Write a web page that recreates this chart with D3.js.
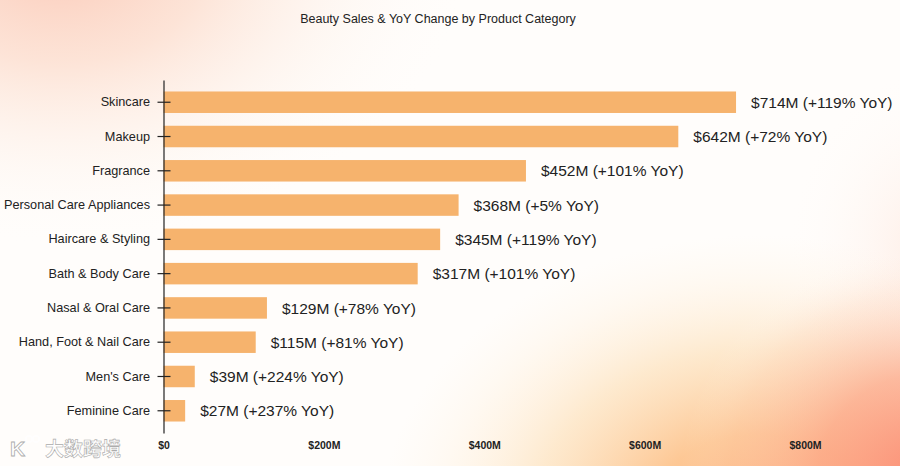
<!DOCTYPE html>
<html><head><meta charset="utf-8">
<script src="https://cdn.jsdelivr.net/npm/d3@7"></script>
<style>
html,body{margin:0;padding:0;background:#fff;}
svg{display:block;font-family:"Liberation Sans",Arial,sans-serif;}
</style></head>
<body>
<svg id="chart" width="900" height="466"></svg>
<script>
const categories = ["Skincare","Makeup","Fragrance","Personal Care Appliances","Haircare & Styling","Bath & Body Care","Nasal & Oral Care","Hand, Foot & Nail Care","Men's Care","Feminine Care"];
const sales = [714,642,452,368,345,317,129,115,39,27];
const yoy = [119,72,101,5,119,101,78,81,224,237];
const xTicks = [0,200,400,600,800];
const xTickLabels = ["$0","$200M","$400M","$600M","$800M"];
const title = "Beauty Sales & YoY Change by Product Category";

const W = 900, H = 466;
const svg = d3.select("#chart");
const defs = svg.append("defs");

function radial(id, cx, cy, r, sy, stops){
  const g = defs.append("radialGradient").attr("id",id).attr("gradientUnits","userSpaceOnUse")
    .attr("cx",cx).attr("cy",cy).attr("r",r)
    .attr("gradientTransform",`translate(${cx},${cy}) scale(1,${sy}) translate(${-cx},${-cy})`);
  stops.forEach(s=>g.append("stop").attr("offset",s[0]).attr("stop-color",s[1]).attr("stop-opacity",s[2]));
}
radial("bgTL",60,-40,420,0.7,[[0,"#fbc8b6",0.95],[0.35,"#fcd9c8",0.7],[0.7,"#fdeee4",0.3],[1,"#ffffff",0]]);
radial("bgPeach",760,520,380,0.75,[[0,"#fcb07c",1],[0.3,"#fdc590",0.95],[0.6,"#fde1bb",0.7],[0.85,"#fff0dc",0.3],[1,"#fff4e6",0]]);
radial("bgSalmon",930,480,250,0.95,[[0,"#fb8a72",1],[0.45,"#fca084",0.65],[0.8,"#fdc8b0",0.2],[1,"#ffffff",0]]);
radial("bgRight",940,250,160,1.2,[[0,"#fdd8c8",0.5],[1,"#ffffff",0]]);
svg.append("rect").attr("width",W).attr("height",H).attr("fill","#fffdfb");
["bgTL","bgRight","bgPeach","bgSalmon"].forEach(id=>
  svg.append("rect").attr("width",W).attr("height",H).attr("fill",`url(#${id})`));

const x = d3.scaleLinear().domain([0,800]).range([163.5,805]);
const y = d3.scaleBand().domain(categories).range([80,433]).paddingInner(0.373).paddingOuter(0.335);

// title
svg.append("text").attr("x",438).attr("y",23).attr("text-anchor","middle")
  .attr("font-size",12.5).attr("fill","#222").text(title);

// bars
svg.append("g").selectAll("rect").data(categories).join("rect")
  .attr("x",x(0)).attr("y",d=>y(d)).attr("width",(d,i)=>x(sales[i])-x(0))
  .attr("height",y.bandwidth()).attr("fill","#f6b36d");

// value labels
svg.append("g").selectAll("text").data(categories).join("text")
  .attr("x",(d,i)=>x(sales[i])+15).attr("y",d=>y(d)+y.bandwidth()/2).attr("dy","0.36em")
  .attr("font-size",15.5).attr("fill","#222")
  .text((d,i)=>`$${sales[i]}M (+${yoy[i]}% YoY)`);

// y axis
const yAxis = svg.append("g").attr("transform",`translate(${x(0)},0)`)
  .call(d3.axisLeft(y).tickSizeInner(6).tickSizeOuter(0).tickPadding(7.5));
yAxis.select(".domain").attr("stroke","#222").attr("stroke-width",1.2);
yAxis.selectAll(".tick line").attr("x1",-6).attr("x2",7).attr("stroke","#222").attr("stroke-width",1.2);
yAxis.selectAll(".tick text").attr("font-size",12.7).attr("fill","#222")
  .attr("font-family","'Liberation Sans',Arial,sans-serif");

// x axis
const xAxis = svg.append("g").attr("transform",`translate(0,433)`)
  .call(d3.axisBottom(x).tickValues(xTicks).tickFormat((d,i)=>xTickLabels[i]).tickSize(0).tickPadding(9));
xAxis.select(".domain").remove();
xAxis.selectAll(".tick text").attr("font-size",10.5).attr("fill","#222").attr("font-weight","600")
  .attr("font-family","'Liberation Sans',Arial,sans-serif");

// watermark
const wm = svg.append("g").attr("opacity",0.95);
wm.append("text").attr("x",10).attr("y",456).attr("font-size",21).attr("font-weight","bold")
  .attr("fill","#fff").attr("stroke","#a8a8a8").attr("stroke-width",0.8).text("K");
wm.append("circle").attr("cx",29).attr("cy",439).attr("r",3.2).attr("fill","none").attr("stroke","#fff").attr("stroke-width",1.8);
wm.append("circle").attr("cx",36).attr("cy",439).attr("r",3.2).attr("fill","none").attr("stroke","#fff").attr("stroke-width",1.8);
wm.append("text").attr("x",45).attr("y",456).attr("font-size",19)
  .attr("font-family","'Noto Sans CJK SC',sans-serif").attr("font-weight","bold")
  .attr("fill","#fff").attr("stroke","#a8a8a8").attr("stroke-width",0.6).text("大数跨境");
</script>
</body></html>
